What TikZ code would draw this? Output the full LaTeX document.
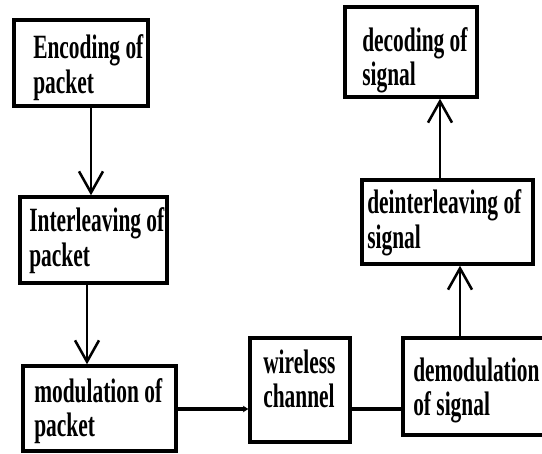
\documentclass[tikz,border=0pt]{standalone}
\usepackage{fontspec}
\newfontfamily\boxfont[FakeStretch=0.63]{Liberation Serif Bold}
\usetikzlibrary{arrows.meta,fit,calc}
\begin{document}
\begin{tikzpicture}[x=0.75pt,y=-0.75pt,
  box/.style={draw, line width=2.6pt, inner sep=0pt, rectangle},
  txt/.style={anchor=base west, inner sep=0pt, font=\boxfont\fontsize{25.5pt}{25.9pt}\selectfont},
  arr/.style={line width=1.9pt, -{Straight Barb[length=16pt,width=18pt,line width=1.9pt]}},
  small/.style={line width=2.4pt, -{Stealth[length=4pt,width=5pt]}},
  link/.style={line width=2.6pt}]
\useasboundingbox (0,0) rectangle (542,453);
\fill[white] (0,0) rectangle (542,453);
\clip (0,0) rectangle (542,453);
% boxes
\node[box, fit={(14,20) (148,106)}] (enc) {};
\node[box, fit={(20,197) (167,283)}] (intl) {};
\node[box, fit={(23,366) (176,451)}] (mod) {};
\node[box, fit={(250,338) (350,442)}] (wch) {};
\node[box, fit={(403,338) (560,435)}] (demod) {};
\node[box, fit={(362,180) (533,264)}] (deint) {};
\node[box, fit={(345,7) (477,97)}] (dec) {};
% texts
\newcommand{\twolines}[2]{\begin{tabular}[t]{@{}l@{}}#1\\#2\end{tabular}}
\node[txt] (enc-t) at (33,59) {\twolines{Encoding of}{packet}};
\node[txt] (intl-t) at (29,231.5) {\twolines{Interleaving of}{packet}};
\node[txt] (mod-t) at (34,402) {\twolines{modulation of}{packet}};
\node[txt] (wch-t) at (263,373) {\twolines{wireless}{channel}};
\node[txt] (demod-t) at (413,381) {\twolines{demodulation}{of signal}};
\node[txt] (deint-t) at (367,213.5) {\twolines{deinterleaving of}{signal}};
\node[txt] (dec-t) at (362,51) {\twolines{decoding of}{signal}};
% connectors
\coordinate (xa) at (91,0);
\coordinate (xb) at (87,0);
\coordinate (yc) at (0,409);
\coordinate (xd) at (460,0);
\coordinate (xe) at (440,0);
\draw[arr] (enc.south -| xa) -- (intl.north -| xa);
\draw[arr] (intl.south -| xb) -- (mod.north -| xb);
\draw[small] (mod.east |- yc) -- (wch.west |- yc);
\draw[link] (wch.east |- yc) -- (demod.west |- yc);
\draw[arr] (demod.north -| xd) -- (deint.south -| xd);
\draw[arr] (deint.north -| xe) -- (dec.south -| xe);
\end{tikzpicture}
\end{document}
